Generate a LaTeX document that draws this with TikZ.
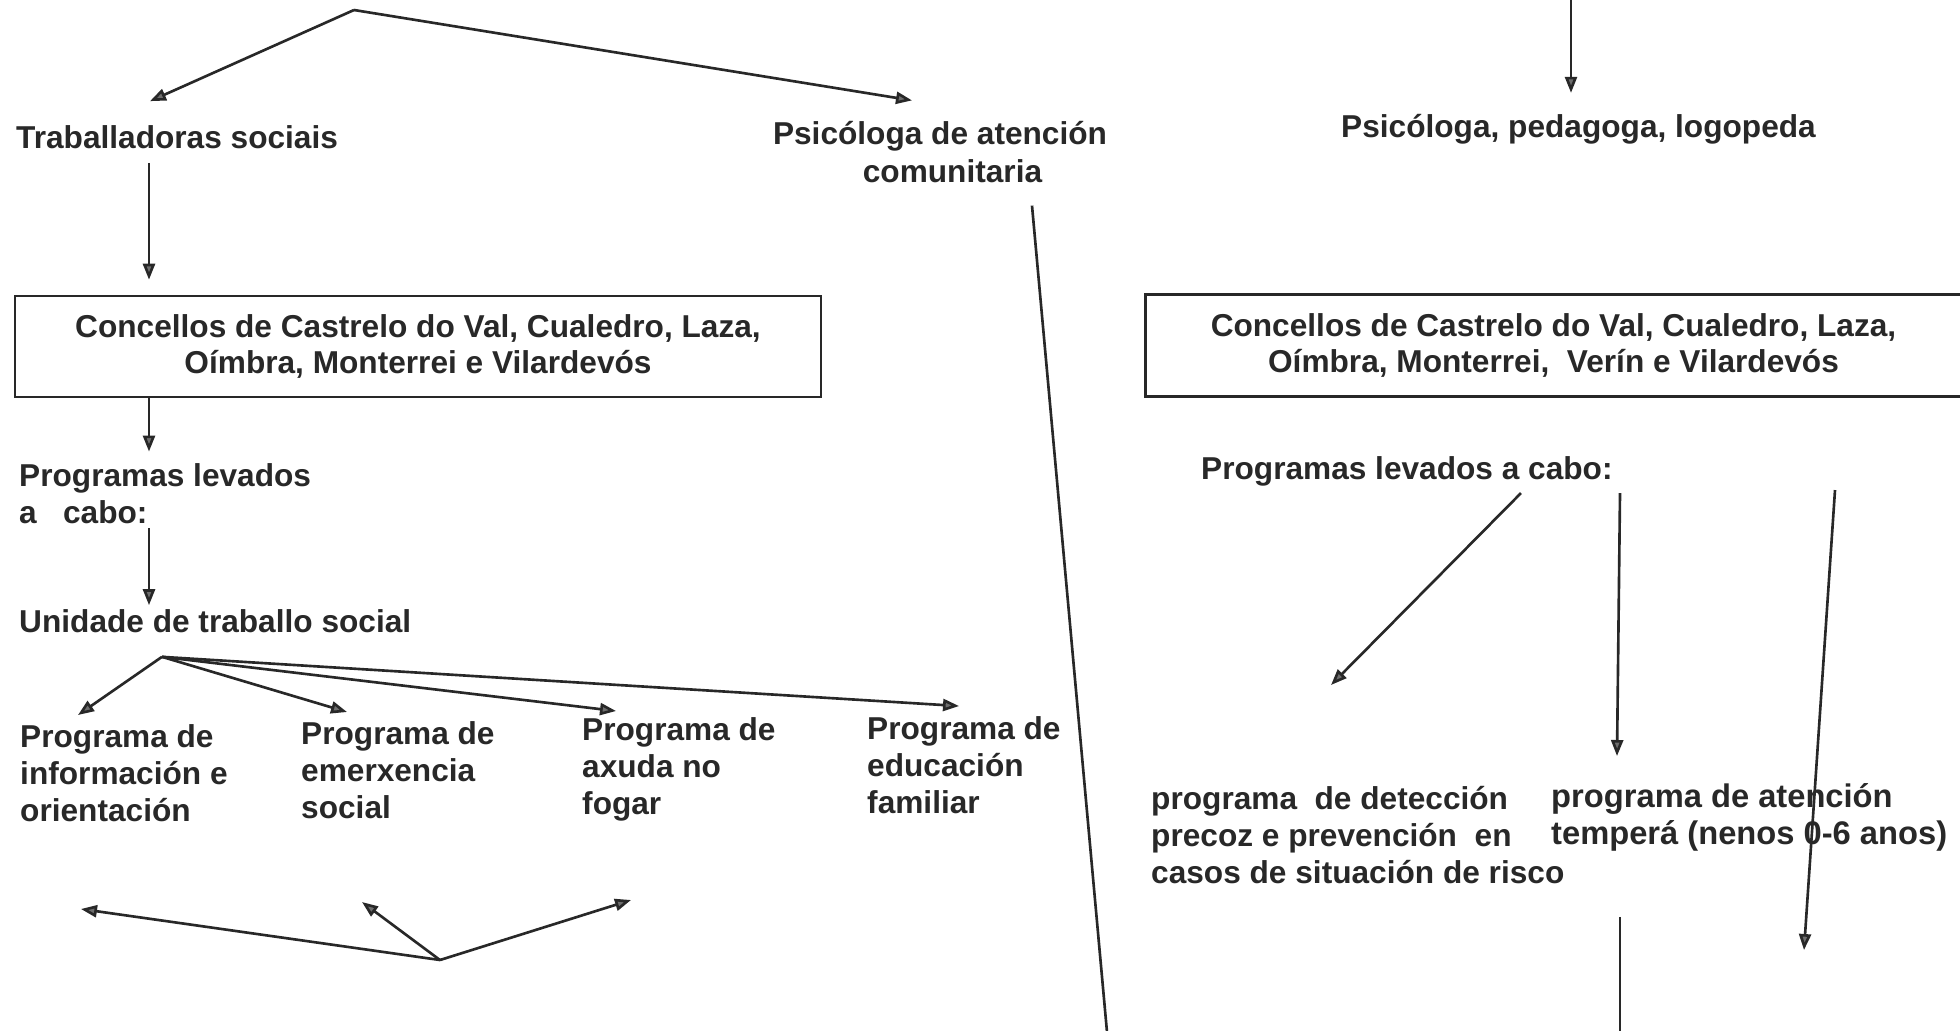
\documentclass[tikz,border=0pt]{standalone}
\usepackage{fontspec}
\setmainfont{Liberation Sans}
\usepackage{xcolor}
\usepackage{tikz}
\usetikzlibrary{arrows.meta, positioning, calc}
\definecolor{inkgray}{RGB}{40, 40, 40}
\definecolor{tipgray}{RGB}{110, 110, 110}

\begin{document}
\begin{tikzpicture}[
    txt/.style={inner sep=1pt, align=left, font=\fontsize{9}{10.6}\selectfont\bfseries, text=inkgray},
    frame/.style={rectangle, draw=inkgray, line width=0.75pt, align=center, inner sep=0pt, font=\fontsize{9}{10.3}\selectfont\bfseries, text=inkgray},
    arrow/.style={-{Triangle[length=0.16cm, width=0.12cm, fill=tipgray]}, line width=0.75pt, inkgray},
    plain/.style={line width=0.75pt, inkgray}
]
\useasboundingbox (0,0) rectangle (19.6,-10.3);

% Traballadoras / Psicóloga
\coordinate (apex) at (3.54,-0.10);
\node[txt, anchor=west] (trab) at (0.12,-1.37) {Traballadoras sociais};
\node[txt, align=center] (psico) at (9.40,-1.52) {Psicóloga de atención\\\hspace*{0.25cm}comunitaria};
\draw[arrow] (apex) -- ([xshift=1.38cm, yshift=0.2cm]trab.north west);
\draw[arrow] (apex) -- ([xshift=-0.28cm, yshift=0.17cm]psico.north);

% Concellos (left)
\coordinate (lcol) at (1.49,0);
\node[frame, minimum width=8.06cm, minimum height=1.01cm] (box1) at (4.18,-3.465) {Concellos de Castrelo do Val, Cualedro, Laza,\\Oímbra, Monterrei e Vilardevós};
\draw[arrow, shorten <=0.1cm, shorten >=0.15cm] (lcol |- trab.south) -- (lcol |- box1.north);

% Programas levados a cabo (left)
\node[txt, anchor=west] (prog1) at (0.15,-4.94) {Programas levados\\a\ \ \ cabo:};
\node[txt, anchor=west] (unid) at (0.15,-6.21) {Unidade de traballo social};
\draw[arrow, shorten >=0.08cm] (lcol |- box1.south) -- (lcol |- prog1.north);
\draw[arrow] (lcol |- prog1.south) -- (lcol |- unid.north);

% Programas da unidade
\coordinate (ufan) at ([xshift=1.47cm, yshift=-0.2cm]unid.south west);
\node[txt, anchor=north west] (p1) at (0.16,-7.20) {Programa de\\información e\\orientación};
\node[txt, anchor=north west] (p2) at (2.97,-7.17) {Programa de\\emerxencia\\social};
\node[txt, anchor=north west] (p3) at (5.78,-7.13) {Programa de\\axuda no\\fogar};
\node[txt, anchor=north west] (p4) at (8.63,-7.12) {Programa de\\educación\\familiar};
\draw[arrow] (ufan) -- ([xshift=0.62cm, yshift=0.05cm]p1.north west);
\draw[arrow] (ufan) -- ([xshift=0.50cm, yshift=0.05cm]p2.north west);
\draw[arrow] (ufan) -- ([xshift=0.38cm, yshift=0.02cm]p3.north west);
\draw[arrow] (ufan) -- ([xshift=0.96cm, yshift=0.06cm]p4.north west);

% Bottom fork
\coordinate (bfork) at (4.40,-9.60);
\coordinate (bl) at (0.81,-9.09);
\coordinate (bm) at (3.62,-9.02);
\coordinate (br) at (6.31,-9.00);
\draw[arrow] (bfork) -- (bl);
\draw[arrow] (bfork) -- (bm);
\draw[arrow] (bfork) -- (br);

% Long line from psicóloga
\coordinate (lend) at (11.07,-10.32);
\draw[plain] ([xshift=0.92cm, yshift=-0.19cm]psico.south) -- (lend);

% Right branch
\coordinate (rtop) at (15.71,0);
\node[txt, anchor=west] (psped) at (13.37,-1.29) {Psicóloga, pedagoga, logopeda};
\draw[arrow, shorten >=0.17cm] (rtop) -- (rtop |- psped.north);

% Concellos (right), open at the page edge
\node[frame, draw=none, minimum width=8.13cm, minimum height=0.99cm] (box2) at (15.535,-3.455) {Concellos de Castrelo do Val, Cualedro, Laza,\\Oímbra, Monterrei,\ \ Verín e Vilardevós};
\draw[plain] (box2.north east) -- (box2.north west) -- (box2.south west) -- (box2.south east);

\node[txt, anchor=west] (prog2) at (11.97,-4.71) {Programas levados a cabo:};
\node[txt, anchor=north west] (det) at (11.47,-7.82) {programa\ \ de detección\\precoz e prevención\ \ en\\casos de situación de risco};
\node[txt, anchor=north west, font=\fontsize{9.3}{10.7}\selectfont\bfseries] (aten) at (15.47,-7.79) {programa de atención\\temperá (nenos 0-6 anos)};

\coordinate (r3end) at (18.04,-9.50);
\coordinate (rend) at (16.20,-10.32);
\draw[arrow] ([xshift=3.24cm, yshift=-0.03cm]prog2.south west) -- ([xshift=1.84cm, yshift=0.97cm]det.north west);
\draw[arrow] ([xshift=4.23cm, yshift=-0.03cm]prog2.south west) -- ([xshift=0.70cm, yshift=0.23cm]aten.north west);
\draw[arrow] ([xshift=6.38cm]prog2.south west) -- (r3end);
\draw[plain] ([xshift=0.73cm, yshift=-0.61cm]aten.south west) -- (rend);
\end{tikzpicture}
\end{document}
